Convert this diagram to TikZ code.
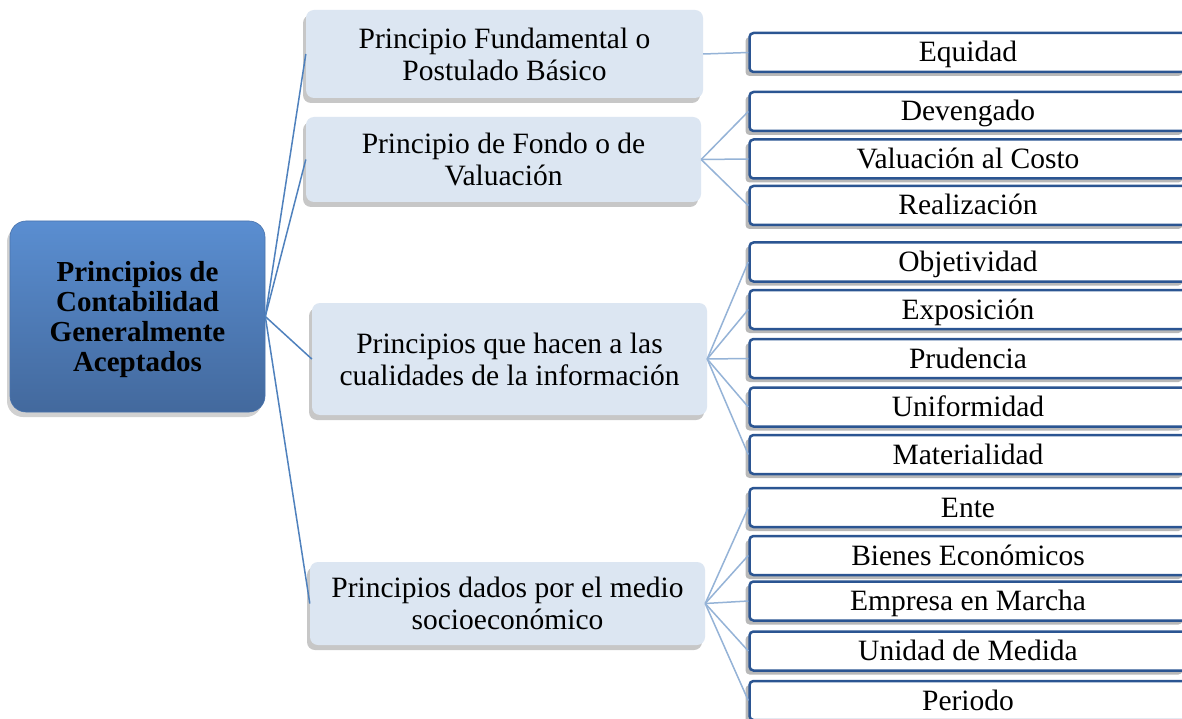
\documentclass[tikz,border=0pt]{standalone}
\usepackage{fontspec}
\setmainfont{Liberation Serif}
\usetikzlibrary{shadows}
\definecolor{midfill}{HTML}{DCE6F2}
\definecolor{childborder}{HTML}{2B5592}
\definecolor{rootline}{HTML}{4F81BD}
\definecolor{childline}{HTML}{95B3D7}
\definecolor{roottop}{HTML}{5A8ED1}
\definecolor{rootbot}{HTML}{43699D}
\tikzset{
  txt/.style={font=\fontsize{29.5}{32}\selectfont, align=center, inner sep=0pt},
  rootbox/.style={txt, font=\fontsize{29}{30}\selectfont\bfseries, rounded corners=16pt,
     top color=roottop, bottom color=rootbot, draw=rootbot!70!roottop, line width=0.6pt,
     drop shadow={shadow xshift=-3pt, shadow yshift=-5pt, fill=black, opacity=0.18}},
  midbox/.style={txt, rounded corners=8pt, fill=midfill,
     drop shadow={shadow xshift=-3pt, shadow yshift=-5pt, fill=black, opacity=0.22}},
  childbox/.style={txt, rounded corners=4pt, fill=white, draw=childborder, line width=2.5pt,
     minimum width=437pt, minimum height=39pt, text height=24pt, text depth=5pt,
     drop shadow={shadow xshift=-4pt, shadow yshift=-4pt, fill=black, opacity=0.28}},
  rootcon/.style={draw=rootline, line width=1.5pt},
  childcon/.style={draw=childline, line width=1.5pt},
}
\begin{document}
\begin{tikzpicture}[x=1pt,y=-1pt]
\useasboundingbox (0,0) rectangle (1182,719);
\clip (0,0) rectangle (1182,719);
\fill[white] (0,0) rectangle (1182,719);

% root
\node[rootbox, minimum width=255pt, minimum height=191pt] (root) at (137.5,316.5)
  {\rule{0pt}{26pt}Principios de\\Contabilidad\\Generalmente\\Aceptados};

% middle boxes
\node[midbox, minimum width=397pt, minimum height=88pt] (m1) at (504.5,54)
  {Principio Fundamental o\\Postulado Básico};
\node[midbox, minimum width=395pt, minimum height=85pt] (m2) at (503.5,159.5)
  {Principio de Fondo o de\\Valuación};
\node[midbox, minimum width=395pt, minimum height=112pt] (m3) at (509.5,359)
  {Principios que hacen a las\\cualidades de la información};
\node[midbox, minimum width=395pt, minimum height=83pt] (m4) at (507.5,603.5)
  {Principios dados por el medio\\socioeconómico};

% child boxes
\node[childbox] (c1) at (968,52.5) {Equidad};
\node[childbox] (c2) at (968,111.5) {Devengado};
\node[childbox] (c3) at (968,159) {Valuación al Costo};
\node[childbox] (c4) at (968,205.5) {Realización};
\node[childbox] (c5) at (968,262) {Objetividad};
\node[childbox] (c6) at (968,309.5) {Exposición};
\node[childbox] (c7) at (968,358.5) {Prudencia};
\node[childbox] (c8) at (968,407) {Uniformidad};
\node[childbox] (c9) at (968,454.5) {Materialidad};
\node[childbox] (c10) at (968,507.5) {Ente};
\node[childbox] (c11) at (968,555.5) {Bienes Económicos};
\node[childbox] (c12) at (968,601) {Empresa en Marcha};
\node[childbox] (c13) at (968,651) {Unidad de Medida};
\node[childbox] (c14) at (968,700.5) {Periodo};

% connectors root -> middle
\foreach \m in {m1,m2,m3,m4} \draw[rootcon] (root.east) -- (\m.west);

% connectors middle -> children
\draw[childcon] (m1.east) -- (c1.west);
\foreach \c in {c2,c3,c4} \draw[childcon] (m2.east) -- (\c.west);
\foreach \c in {c5,c6,c7,c8,c9} \draw[childcon] (m3.east) -- (\c.west);
\foreach \c in {c10,c11,c12,c13,c14} \draw[childcon] (m4.east) -- (\c.west);
\end{tikzpicture}
\end{document}
